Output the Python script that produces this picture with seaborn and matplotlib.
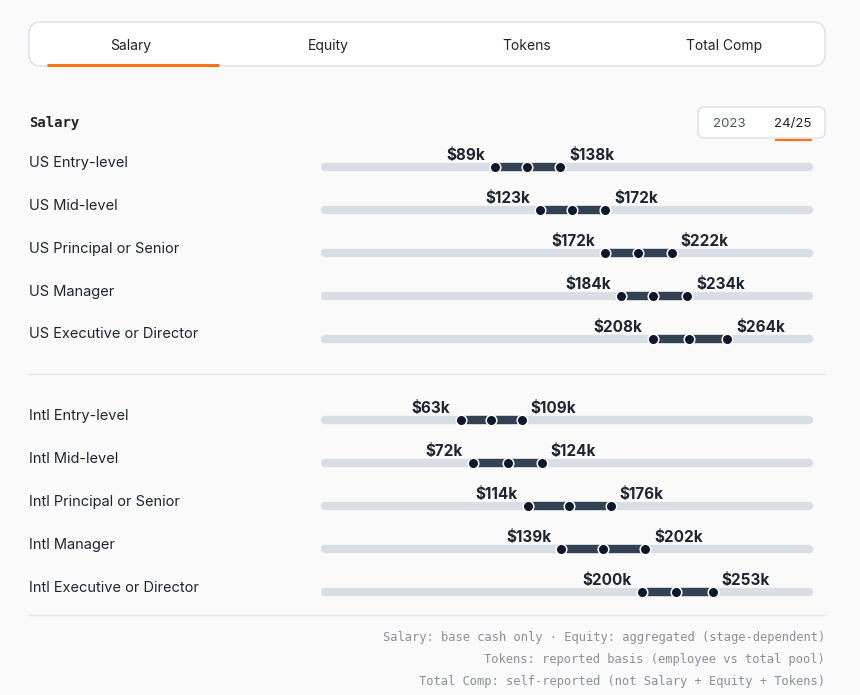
import numpy as np
import pandas as pd
import matplotlib
matplotlib.use('Agg')
import matplotlib.pyplot as plt
from matplotlib.patches import FancyBboxPatch
import seaborn as sns

sns.set_theme(style='white')
plt.rcParams['font.family'] = ['Inter', 'DejaVu Sans']

# data (salary ranges, $k)
roles = ['US Entry-level', 'US Mid-level', 'US Principal or Senior', 'US Manager',
         'US Executive or Director',
         'Intl Entry-level', 'Intl Mid-level', 'Intl Principal or Senior', 'Intl Manager',
         'Intl Executive or Director']
group = ['US'] * 5 + ['Intl'] * 5
low = [89, 123, 172, 184, 208, 63, 72, 114, 139, 200]
median = [113, 147, 197, 208, 235, 86, 99, 145, 170, 225]
high = [138, 172, 222, 234, 264, 109, 124, 176, 202, 253]

tabs = ['Salary', 'Equity', 'Tokens', 'Total Comp']
years = ['2023', '24/25']
notes = ['Salary: base cash only \u00b7 Equity: aggregated (stage-dependent)',
         'Tokens: reported basis (employee vs total pool)',
         'Total Comp: self-reported (not Salary + Equity + Tokens)']

df = pd.DataFrame({'role': roles, 'group': group, 'low': low, 'median': median, 'high': high})
df['pos'] = np.arange(len(df)) + np.where(df['group'] == 'Intl', 0.9, 0.0)
dots = df.melt(id_vars=['role', 'pos'], value_vars=['low', 'median', 'high'], value_name='value')

BG = '#fafafa'
TRACK = '#d9dde4'
BAR = '#334155'
DOT = '#0f172a'
TEXT = '#1e2530'
ORANGE = '#f97316'
LINE = '#e3e5e9'

fig = plt.figure(figsize=(8.6, 6.95), dpi=100, facecolor=BG)

# page layer in pixel units
ui = fig.add_axes([0, 0, 1, 1])
ui.set_xlim(0, 860)
ui.set_ylim(695, 0)
ui.axis('off')

# tab bar
ui.add_patch(FancyBboxPatch((29, 22), 796, 44, boxstyle='round,pad=0,rounding_size=12',
                            fc='white', ec='#dcdfe5', lw=1))
for t, cx in zip(tabs, [131, 328, 527, 724]):
    ui.text(cx, 44.5, t, ha='center', va='center_baseline', fontsize=10, color='#222222')
ui.plot([47, 219], [64.5, 64.5], color=ORANGE, lw=2.2, solid_capstyle='butt')

# section heading + year toggle
ui.text(29, 122.5, 'Salary', ha='left', va='center', fontsize=10, fontweight='bold',
        family='DejaVu Sans Mono', color='#222222')
ui.add_patch(FancyBboxPatch((698, 107), 127, 31, boxstyle='round,pad=0,rounding_size=6',
                            fc='white', ec='#dcdfe5', lw=1))
ui.text(729, 122.5, years[0], ha='center', va='center_baseline', fontsize=9.5, color='#4b5563')
ui.text(793, 122.5, years[1], ha='center', va='center_baseline', fontsize=9.5, color='#222222')
ui.plot([775, 812], [139.5, 139.5], color=ORANGE, lw=1.6, solid_capstyle='butt')

# separators
ui.plot([29, 825], [373.5, 373.5], color=LINE, lw=1)
ui.plot([29, 825], [614.5, 614.5], color=LINE, lw=1)

for note, y in zip(notes, [637, 659, 681]):
    ui.text(825, y, note, ha='right', va='center', fontsize=8.75,
            family='DejaVu Sans Mono', color='#8a8f98')

# chart layer
ax = fig.add_axes([320 / 860, (695 - 610) / 695, (813 - 320) / 860, (610 - 140) / 695])
ax.set_xlim(-43, 328.6)
ax.set_ylim(10.326, -0.629)
ax.axis('off')

track = ax.hlines(df['pos'], -39.5, 325.5, color=TRACK, lw=6)
track.set_capstyle('round')
ax.hlines(df['pos'], df['low'], df['high'], color=BAR, lw=6, zorder=3)
sns.scatterplot(data=dots, x='value', y='pos', color=DOT, s=58, edgecolor='white',
                linewidth=1.1, zorder=4, legend=False, ax=ax)

for _, r in df.iterrows():
    ax.annotate(f"${r['low']}k", (r['low'], r['pos']), xytext=(-7.5, 8.2),
                textcoords='offset points', ha='right', va='center', fontsize=11,
                fontweight='bold', color=TEXT)
    ax.annotate(f"${r['high']}k", (r['high'], r['pos']), xytext=(6.5, 8.2),
                textcoords='offset points', ha='left', va='center', fontsize=11,
                fontweight='bold', color=TEXT)
    ax.annotate(r['role'], (29 / 860, r['pos']), xycoords=('figure fraction', 'data'),
                xytext=(0, 3.0), textcoords='offset points', ha='left', va='center',
                fontsize=10.5, color=TEXT)

fig.savefig('out.png', dpi=100, facecolor=BG)
